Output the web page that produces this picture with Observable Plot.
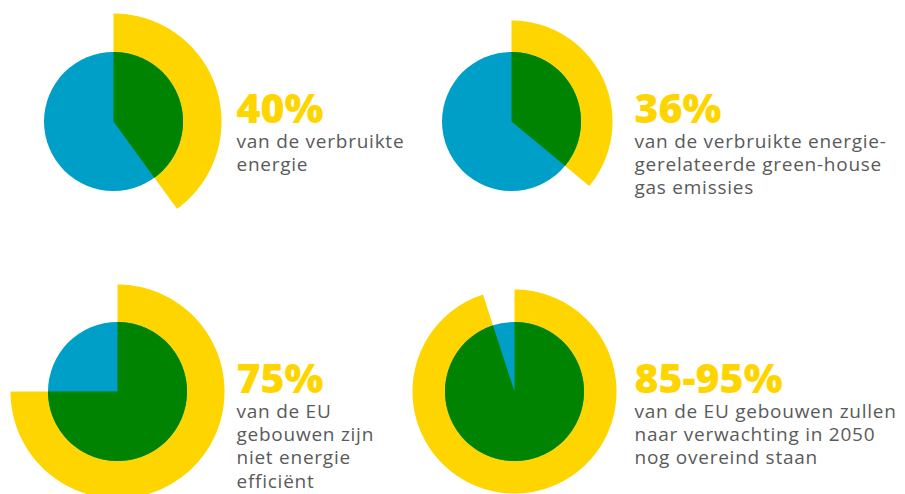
<!DOCTYPE html>
<html>
<head>
<meta charset="utf-8">
<script src="https://cdn.jsdelivr.net/npm/d3@7"></script>
<script src="https://cdn.jsdelivr.net/npm/@observablehq/plot@0.6"></script>
<style>
  html, body { margin: 0; padding: 0; background: #fff; overflow: hidden; }
  #chart svg { display: block; }
</style>
</head>
<body>
<div id="chart"></div>
<script>
// ---- data ----
const headlines = ["40%", "36%", "75%", "85-95%"];
const shares = [40, 36, 75, 95];            // percentage shown in green and yellow
const captions = [
  ["van de verbruikte", "energie"],
  ["van de verbruikte energie-", "gerelateerde green-house", "gas emissies"],
  ["van de EU", "gebouwen zijn", "niet energie", "efficiënt"],
  ["van de EU gebouwen zullen", "naar verwachting in 2050", "nog overeind staan"]
];

// ---- layout (pixels) ----
const centers = [[113, 121], [511, 121], [117, 391], [514, 391]];
const outerR = [108, 101, 107, 102];
const innerR = 69.5;
const textX = [236, 634, 236, 634];
const yellow = "#FFD500", blue = "#009FC7", green = "#008300";

// wedge polygons derived from the shares
function wedge(i, share, r, kind) {
  const [cx, cy] = centers[i];
  const end = share / 100 * 2 * Math.PI;
  const n = Math.max(2, Math.ceil(share * 3));
  const pts = [{id: kind + i, x: cx, y: cy}];
  for (let k = 0; k <= n; ++k) {
    const a = end * k / n;
    pts.push({id: kind + i, x: cx + r * Math.sin(a), y: cy - r * Math.cos(a)});
  }
  pts.push({id: kind + i, x: cx, y: cy});
  return pts;
}
const yellowPts = shares.flatMap((s, i) => wedge(i, s, outerR[i], "y"));
const greenPts = shares.flatMap((s, i) => wedge(i, s, innerR, "g"));
const discs = centers.map(([x, y]) => ({x, y}));
const heads = headlines.map((t, i) => ({t, x: textX[i], y: centers[i][1] + 1}));
const capRows = captions.flatMap((lines, i) =>
  lines.map((t, k) => ({t, x: textX[i], y: centers[i][1] + 26 + k * 23.4})));

const chart = Plot.plot({
  width: 905,
  height: 494,
  margin: 0,
  x: {domain: [0, 905], range: [0, 905], axis: null},
  y: {domain: [0, 494], range: [0, 494], axis: null},
  marks: [
    Plot.line(yellowPts, {x: "x", y: "y", z: "id", fill: yellow, stroke: "none"}),
    Plot.dot(discs, {x: "x", y: "y", r: innerR, fill: blue, stroke: "none"}),
    Plot.line(greenPts, {x: "x", y: "y", z: "id", fill: green, stroke: "none"}),
    Plot.text(heads, {x: "x", y: "y", text: "t", textAnchor: "start", lineAnchor: "bottom",
      fill: yellow, fontSize: 41, fontWeight: 800, fontFamily: "Open Sans"}),
    Plot.text(capRows, {x: "x", y: "y", text: "t", textAnchor: "start", lineAnchor: "bottom",
      fill: "#5a5a5a", fontSize: 19, fontWeight: 400, fontFamily: "Open Sans"})
  ]
});
d3.select(chart).selectAll("g[aria-label='text']").filter((d, i) => i === 1)
  .attr("letter-spacing", "0.75");
document.getElementById("chart").append(chart);
</script>
</body>
</html>
